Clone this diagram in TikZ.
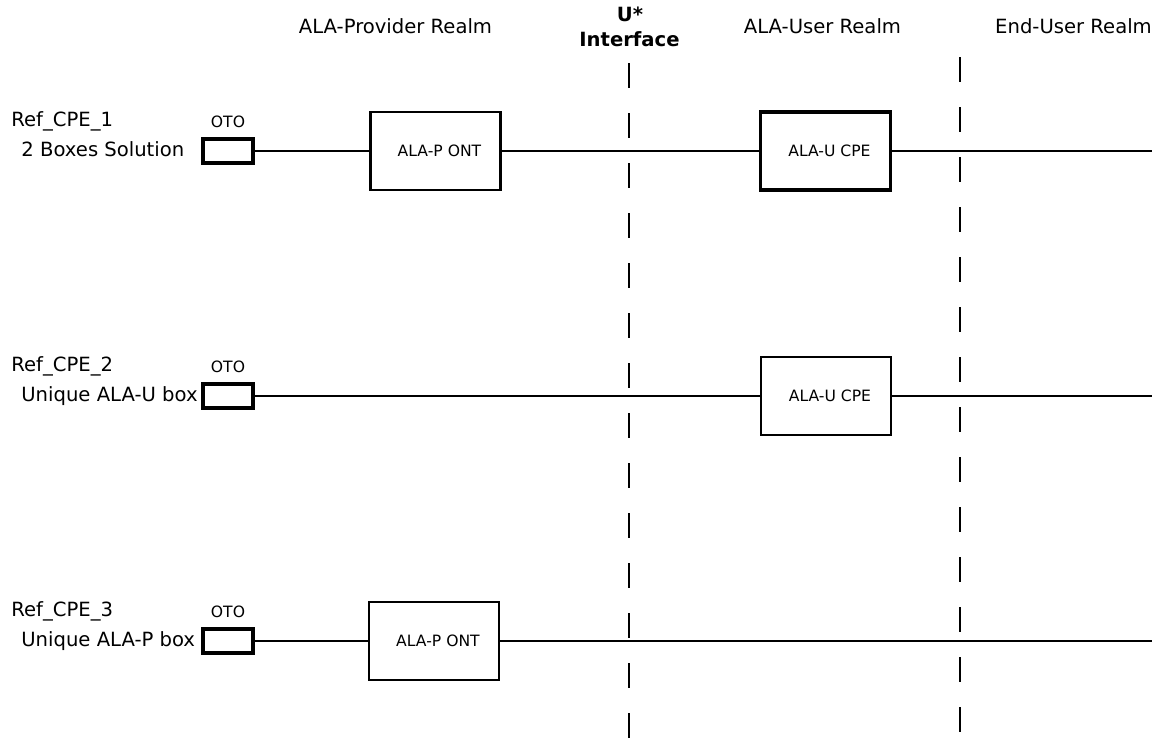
\documentclass[tikz,border=0pt]{standalone}
\usepackage{fontspec}
\setmainfont{DejaVu Sans}
\usetikzlibrary{positioning}
\tikzset{
  wire/.style={line width=1.2pt},
  boundary/.style={line width=1.2pt, dash pattern=on 12.5pt off 12.5pt},
  realm/.style={anchor=base, inner sep=0pt, font=\fontsize{9.8}{12}\selectfont},
  iface/.style={realm, font=\fontsize{9.8}{12}\selectfont\bfseries},
  cpename/.style={anchor=base west, inner sep=0pt, font=\fontsize{9.8}{12}\selectfont},
  oto/.style={draw, line width=1.6pt, minimum width=25pt, minimum height=12pt, inner sep=0pt},
  otolabel/.style={inner sep=0pt, font=\fontsize{7.8}{9}\selectfont},
  unitbox/.style={draw, line width=1.2pt, minimum width=65pt, minimum height=39pt, inner sep=0pt, font=\fontsize{7.8}{9}\selectfont},
  thickbox/.style={unitbox, line width=1.9pt}
}
\begin{document}
\begin{tikzpicture}[x=0.5pt, y=-0.5pt]
  \useasboundingbox (0,0) rectangle (1163,740);
  % realms
  \node[realm] (provider) at (395.5,33) {ALA-Provider Realm};
  \node[iface] (ustar) at (630,21) {U*};
  \node[iface] (interface) at (629.5,46) {Interface};
  \node[realm] (user) at (822.5,33) {ALA-User Realm};
  \node[realm] (enduser) at (1073.5,33) {End-User Realm};
  % realm boundaries
  \coordinate (utop) at (629,63);
  \coordinate (ubot) at (629,739);
  \coordinate (etop) at (960,57);
  \coordinate (ebot) at (960,733);
  % reference cases
  \foreach \n/\y/\desc in {1/151/2 Boxes Solution, 2/396/Unique ALA-U box, 3/641/Unique ALA-P box} {
    \node[oto] (oto\n) at (228,\y) {};
    \node[otolabel, above=4.5pt of oto\n] (otolabel\n) {OTO};
    \node[cpename] (ref\n) at (11,\y-24.5) {Ref\_CPE\_\n};
    \node[cpename] (desc\n) at (21,\y+5) {\desc};
    \coordinate (end\n) at (1152,\y);
  }
  \node[unitbox] (ont1) at (435.5,151) {\hspace*{4pt}ALA-P ONT};
  \node[thickbox] (cpe1) at (825.5,151) {\hspace*{4pt}ALA-U CPE};
  \node[unitbox] (cpe2) at (826,396) {\hspace*{4pt}ALA-U CPE};
  \node[unitbox] (ont3) at (434,641) {\hspace*{4pt}ALA-P ONT};
  \draw[wire] (oto1) -- (ont1) -- (cpe1) -- (end1);
  \draw[wire] (oto2) -- (cpe2) -- (end2);
  \draw[wire] (oto3) -- (ont3) -- (end3);
  \draw[boundary] (utop) -- (ubot);
  \draw[boundary] (etop) -- (ebot);
\end{tikzpicture}
\end{document}
